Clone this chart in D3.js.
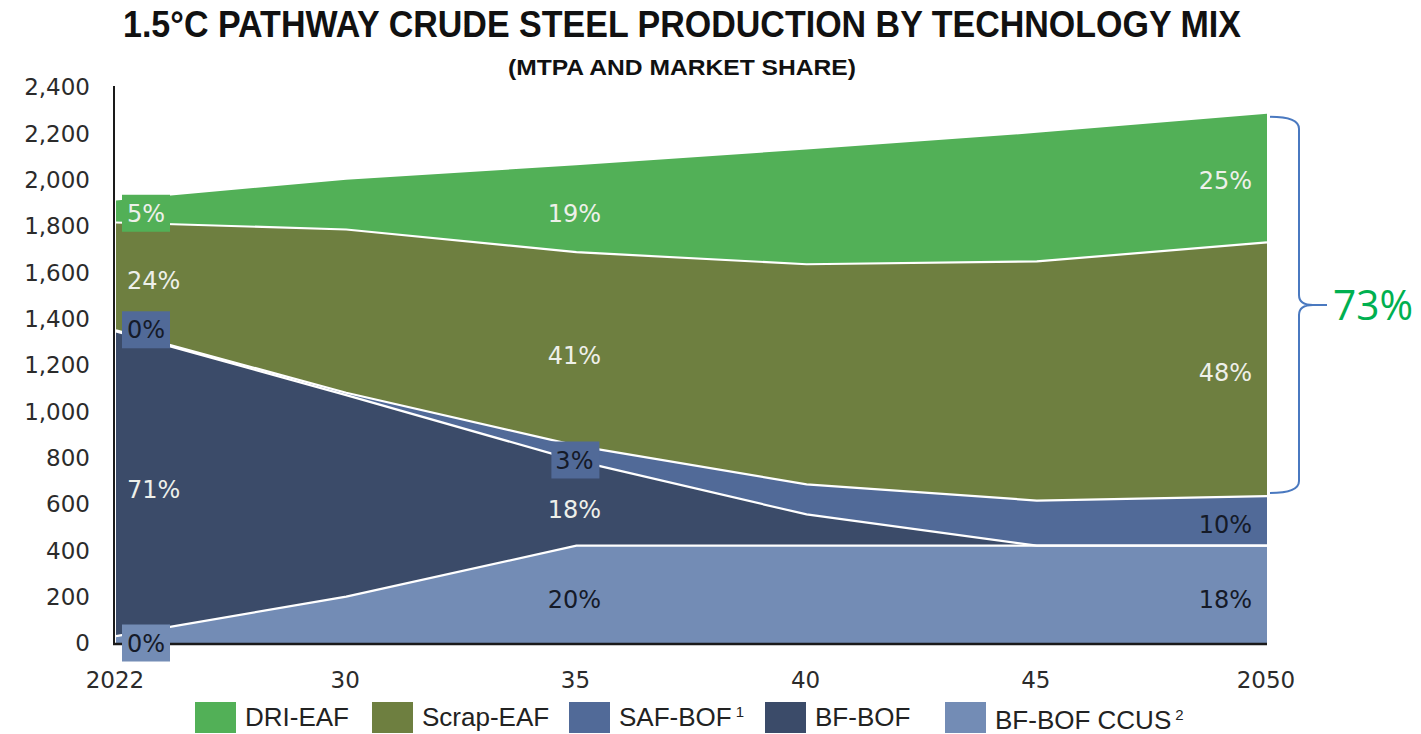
<!DOCTYPE html>
<html>
<head>
<meta charset="utf-8">
<script src="https://cdn.jsdelivr.net/npm/d3@7"></script>
<style>
  body { margin: 0; background: #fff; }
  svg { display: block; }
</style>
</head>
<body>
<div id="chart"></div>
<script>
// categories (x axis) and stacked series values, MTPA
const years = ["2022", "30", "35", "40", "45", "2050"];
const ccus   = [30, 200, 420, 420, 420, 420];
const bfBof  = [1315, 870, 367, 135, 0, 0];
const safBof = [5, 10, 65, 130, 195, 214];
const scrap  = [465, 705, 835, 950, 1032, 1095];
const dri    = [95, 215, 375, 495, 555, 555];

const yTicks = [0, 200, 400, 600, 800, 1000, 1200, 1400, 1600, 1800, 2000, 2200, 2400];

const seriesKeys   = ["ccus", "bfBof", "safBof", "scrap", "dri"];
const seriesNames  = { dri: "DRI-EAF", scrap: "Scrap-EAF", safBof: "SAF-BOF", bfBof: "BF-BOF", ccus: "BF-BOF CCUS" };
const seriesSup    = { safBof: "1", ccus: "2" };
const legendOrder  = ["dri", "scrap", "safBof", "bfBof", "ccus"];

// share labels: text, year, value (MTPA position), anchor, box series (or null)
const shareText  = ["5%", "24%", "0%", "71%", "0%", "19%", "41%", "3%", "18%", "20%", "25%", "48%", "10%", "18%"];
const shareYear  = ["2022", "2022", "2022", "2022", "2022", "35", "35", "35", "35", "35", "2050", "2050", "2050", "2050"];
const shareValue = [1855, 1565, 1352, 662, 0, 1855, 1243, 790, 578, 190, 1996, 1168, 513, 190];
const shareBox   = ["dri", null, "safBof", null, "ccus", null, null, "safBof", null, null, null, null, null, null];
const shareDark  = [false, false, true, false, true, false, false, true, false, true, false, false, true, true];

const totalNote = "73%";

const colors = {
  dri: "#52b057",
  scrap: "#6e7f40",
  safBof: "#516a98",
  bfBof: "#3b4b69",
  ccus: "#738cb5"
};

const width = 1421, height = 734;
const svg = d3.select("#chart").append("svg")
  .attr("width", width)
  .attr("height", height);

const x = d3.scalePoint().domain(years).range([116, 1267]);
const y = d3.scaleLinear().domain([0, 2400]).range([643, 87]);

const table = years.map((yr, i) => ({
  year: yr, ccus: ccus[i], bfBof: bfBof[i], safBof: safBof[i], scrap: scrap[i], dri: dri[i]
}));
const stacked = d3.stack().keys(seriesKeys)(table);

const area = d3.area()
  .x(d => x(d.data.year))
  .y0(d => y(d[0]))
  .y1(d => y(d[1]));

svg.append("g").selectAll("path")
  .data(stacked)
  .join("path")
  .attr("d", area)
  .attr("fill", d => colors[d.key]);

// white separators between layers
const topLine = d3.line().x(d => x(d.data.year)).y(d => y(d[1]));
svg.append("g").selectAll("path")
  .data(stacked.slice(0, 4))
  .join("path")
  .attr("d", topLine)
  .attr("fill", "none")
  .attr("stroke", "#fff")
  .attr("stroke-width", 2.2);

// axes: plain lines, no tick marks
svg.append("line")
  .attr("x1", 114).attr("x2", 114)
  .attr("y1", y(2400) - 1).attr("y2", y(0) + 1)
  .attr("stroke", "#1a1a1a").attr("stroke-width", 2);
svg.append("line")
  .attr("x1", 113).attr("x2", x("2050"))
  .attr("y1", y(0) + 1).attr("y2", y(0) + 1)
  .attr("stroke", "#1a1a1a").attr("stroke-width", 2.5);

const tickFont = "'DejaVu Sans', sans-serif";
svg.append("g").selectAll("text")
  .data(yTicks)
  .join("text")
  .attr("x", 90)
  .attr("y", d => y(d))
  .attr("dy", "0.36em")
  .attr("text-anchor", "end")
  .attr("font-family", tickFont)
  .attr("font-size", 23)
  .attr("fill", "#2b2b2b")
  .text(d3.format(","));

svg.append("g").selectAll("text")
  .data(years)
  .join("text")
  .attr("x", d => x(d) - 1)
  .attr("y", 688)
  .attr("text-anchor", "middle")
  .attr("font-family", tickFont)
  .attr("font-size", 23)
  .attr("fill", "#2b2b2b")
  .text(d => d);

// share labels
const labels = svg.append("g");
shareText.forEach((t, i) => {
  const yr = shareYear[i];
  const cy = y(shareValue[i]);
  let tx, anchor;
  if (yr === "2022") { tx = x(yr) + 11; anchor = "start"; }
  else if (yr === "2050") { tx = x(yr) - 15; anchor = "end"; }
  else { tx = x(yr) - 2; anchor = "middle"; }

  if (shareBox[i]) {
    const bw = 48, bh = 37;
    const bx = yr === "2022" ? x(yr) + 6 : x(yr) - 25;
    labels.append("rect")
      .attr("x", bx).attr("y", cy - bh / 2)
      .attr("width", bw).attr("height", bh)
      .attr("fill", colors[shareBox[i]]);
  }
  labels.append("text")
    .attr("x", tx)
    .attr("y", cy)
    .attr("dy", "0.36em")
    .attr("text-anchor", anchor)
    .attr("font-family", tickFont)
    .attr("font-size", 24)
    .attr("fill", shareDark[i] ? "#151a28" : "#eef0ea")
    .text(t);
});

// title
svg.append("text")
  .attr("x", 123).attr("y", 37)
  .attr("font-family", "'Liberation Sans Narrow', 'Arial Narrow', sans-serif")
  .attr("font-weight", "bold")
  .attr("font-size", 37)
  .attr("textLength", 1118)
  .attr("lengthAdjust", "spacingAndGlyphs")
  .attr("fill", "#111")
  .text("1.5°C PATHWAY CRUDE STEEL PRODUCTION BY TECHNOLOGY MIX");
svg.append("text")
  .attr("x", 508).attr("y", 75)
  .attr("font-family", "'Liberation Sans Narrow', 'Arial Narrow', sans-serif")
  .attr("font-weight", "bold")
  .attr("font-size", 22)
  .attr("textLength", 348)
  .attr("lengthAdjust", "spacingAndGlyphs")
  .attr("fill", "#111")
  .text("(MTPA AND MARKET SHARE)");

// brace around the EAF share at 2050
const bTop = y(dri[5] + scrap[5] + safBof[5] + bfBof[5] + ccus[5]) + 3;
const bBot = y(safBof[5] + bfBof[5] + ccus[5]) - 3;
const bMid = (bTop + bBot) / 2;
const bx0 = 1270, bx1 = 1299, bx2 = 1327;
svg.append("path")
  .attr("d", `M${bx0},${bTop} Q${bx1},${bTop} ${bx1},${bTop + 12} L${bx1},${bMid - 10} Q${bx1},${bMid} ${bx2 - 14},${bMid} L${bx2},${bMid}` +
             ` M${bx2 - 14},${bMid} Q${bx1},${bMid} ${bx1},${bMid + 10} L${bx1},${bBot - 12} Q${bx1},${bBot} ${bx0},${bBot}`)
  .attr("fill", "none")
  .attr("stroke", "#4a79c0")
  .attr("stroke-width", 2);
svg.append("text")
  .attr("x", 1333).attr("y", bMid)
  .attr("dy", "0.36em")
  .attr("font-family", "'Open Sans', sans-serif")
  .attr("font-size", 42)
  .attr("textLength", 80)
  .attr("lengthAdjust", "spacingAndGlyphs")
  .attr("fill", "#00b050")
  .text(totalNote);

// legend
const legX = [195, 372, 569, 765, 945];
const leg = svg.append("g");
legendOrder.forEach((k, i) => {
  leg.append("rect")
    .attr("x", legX[i]).attr("y", 702)
    .attr("width", 41).attr("height", 31)
    .attr("fill", colors[k]);
  const t = leg.append("text")
    .attr("x", legX[i] + 50)
    .attr("y", k === "ccus" ? 729 : 726)
    .attr("font-family", "'Liberation Sans Narrow', 'Arial Narrow', sans-serif")
    .attr("font-size", 26)
    .attr("fill", "#222")
    .text(seriesNames[k]);
  if (seriesSup[k]) {
    t.append("tspan")
      .attr("dx", 4)
      .attr("dy", -9)
      .attr("font-size", 15)
      .text(seriesSup[k]);
  }
});
</script>
</body>
</html>
